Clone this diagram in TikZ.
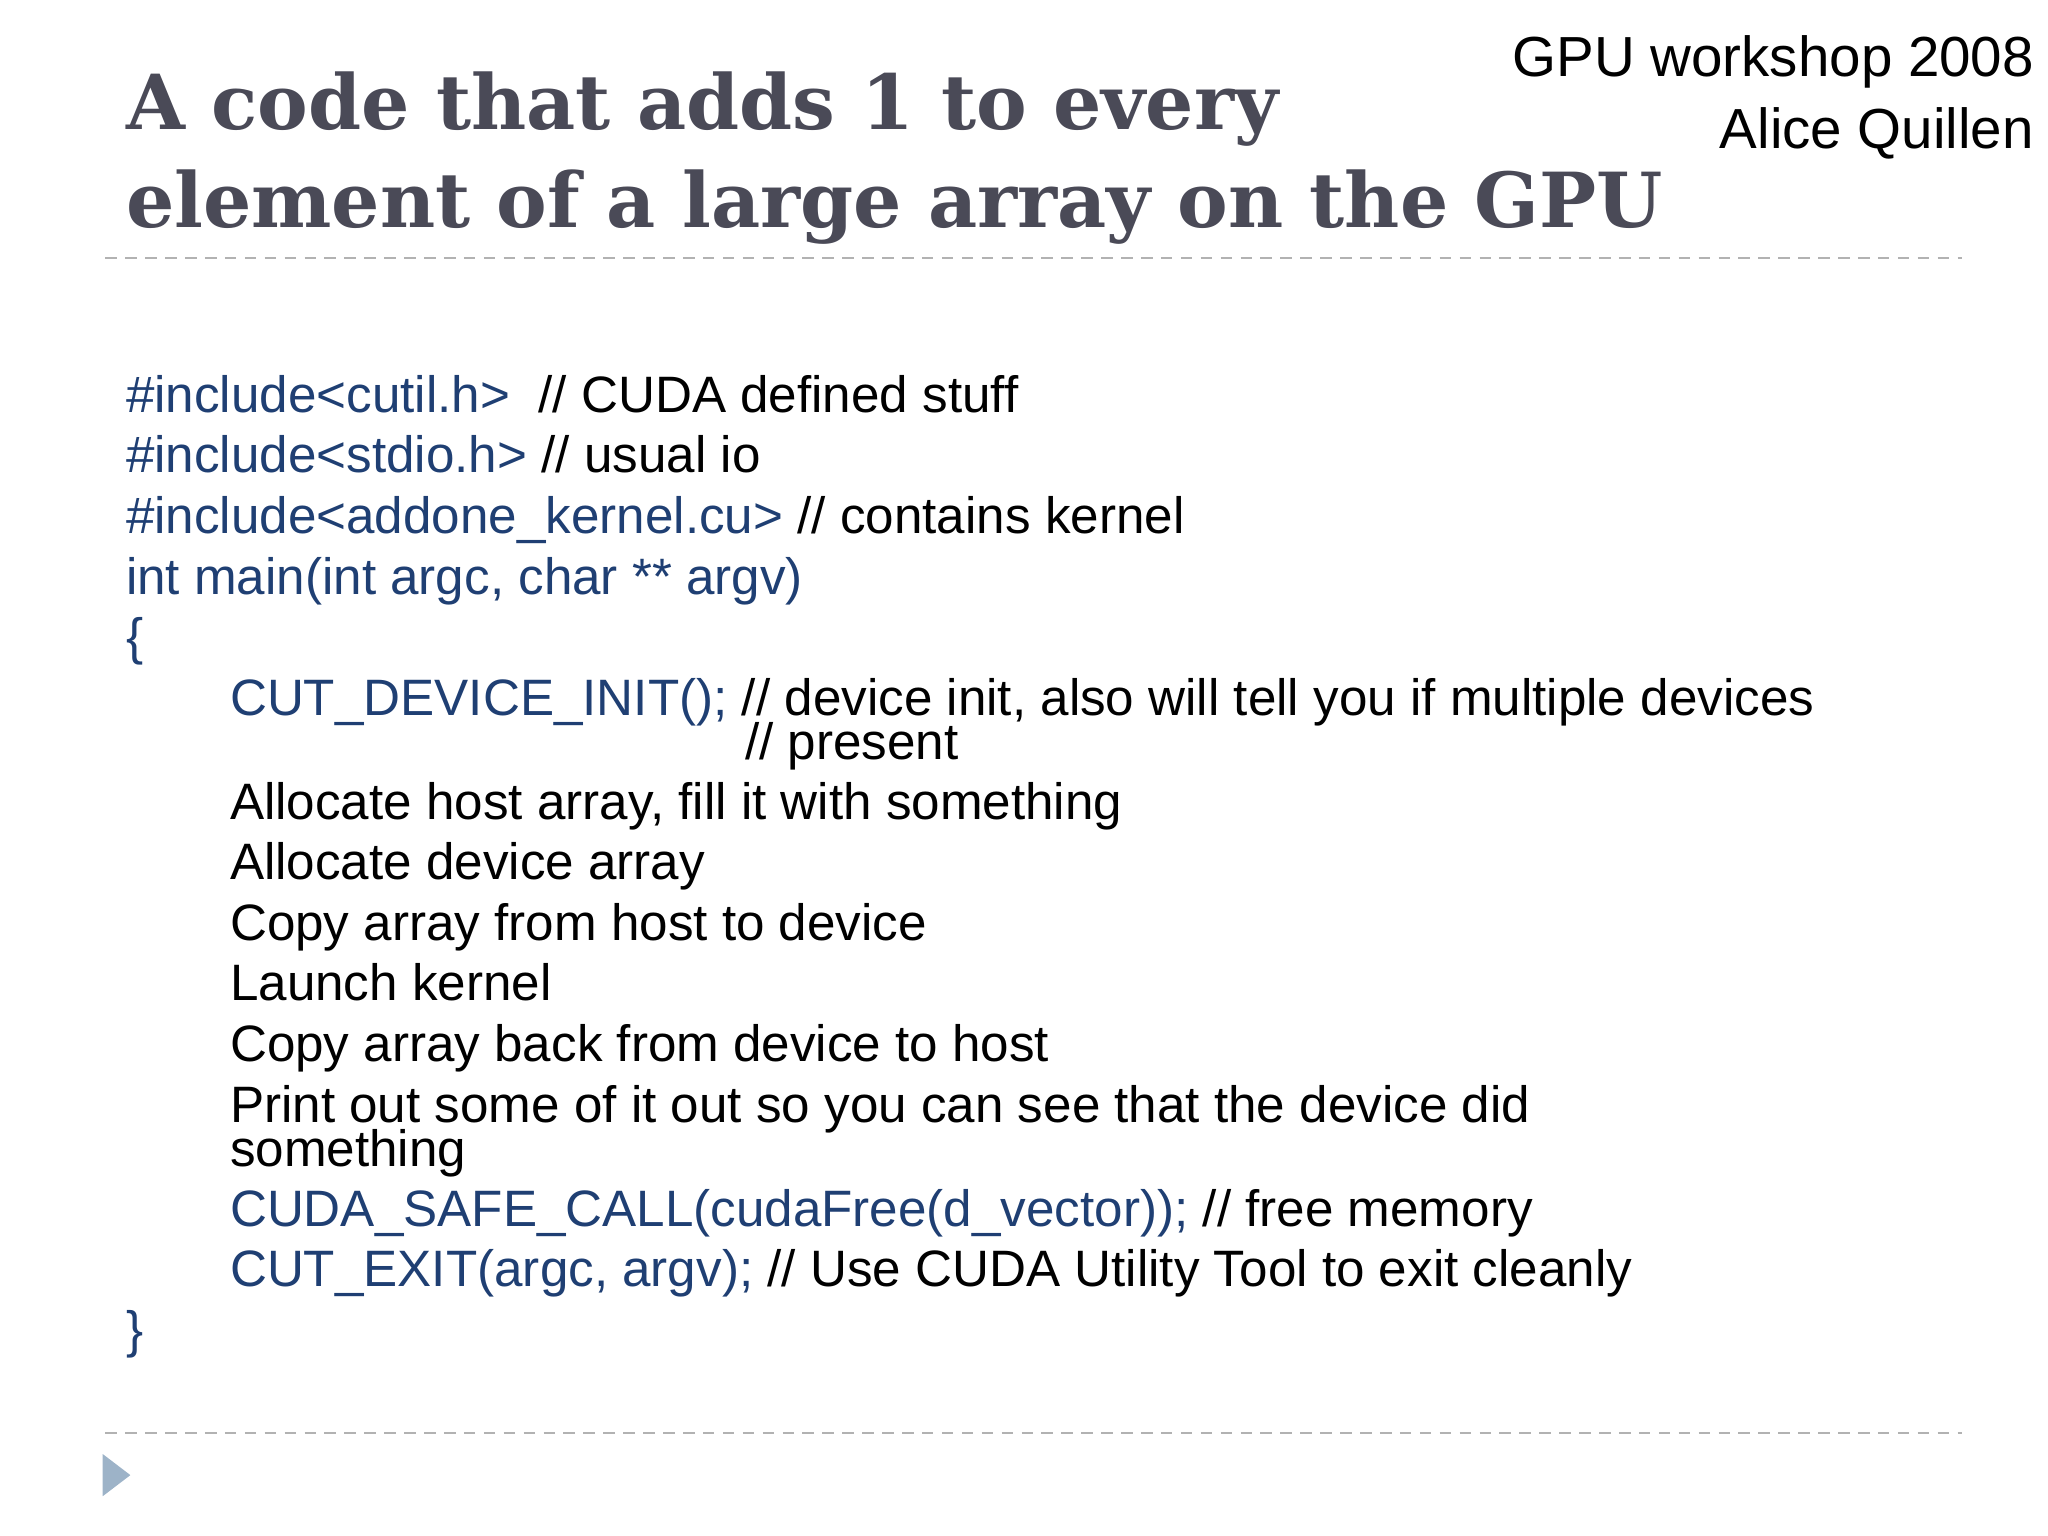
\documentclass[tikz,border=0pt]{standalone}
\usepackage{fontspec}
\setmainfont{Liberation Sans}
\newfontfamily\titlefont{DejaVu Serif}
\definecolor{codeblue}{HTML}{1F3F73}
\definecolor{titlegray}{HTML}{4A4A57}
\definecolor{tri}{HTML}{9DB3C8}
\begin{document}
\begin{tikzpicture}[x=0.01cm,y=-0.01cm,
  body/.style={anchor=base west,inner sep=0pt,font=\fontsize{11.05}{12}\selectfont},
  ttl/.style={anchor=base west,inner sep=0pt,text=titlegray,font=\titlefont\bfseries\fontsize{16.4}{18}\selectfont},
  hdr/.style={anchor=base east,inner sep=0pt,font=\fontsize{12.2}{13}\selectfont},
  rule/.style={gray!60,dash pattern=on 2.5pt off 1.8pt,line width=0.5pt}]
\useasboundingbox (0,0) rectangle (1555,1166);
\node[ttl] (t1) at (95,98) {A code that adds 1 to every};
\node[ttl] (t2) at (95,173) {element of a large array on the GPU};
\node[hdr] (h1) at (1545,58) {GPU workshop 2008};
\node[hdr] (h2) at (1545,113) {Alice Quillen};
\coordinate (r1a) at (80,196); \coordinate (r1b) at (1490,196);
\draw[rule] (r1a) -- (r1b);
\coordinate (r2a) at (80,1088); \coordinate (r2b) at (1490,1088);
\draw[rule] (r2a) -- (r2b);
\fill[tri] (78,1104) -- (99,1120) -- (78,1136) -- cycle;
\node[body] (l1) at (95,313) {{\color{codeblue}\#include<cutil.h>}\ \ // CUDA defined stuff};
\node[body] (l2) at (95,359) {{\color{codeblue}\#include<stdio.h>} // usual io};
\node[body] (l3) at (95,405) {{\color{codeblue}\#include<addone\_kernel.cu>} // contains kernel};
\node[body,text=codeblue] (l4) at (95,451) {int main(int argc, char ** argv)};
\node[body,text=codeblue] (l5) at (95,497) {\{};
\node[body] (l6) at (174,543) {{\color{codeblue}CUT\_DEVICE\_INIT();} // device init, also will tell you if multiple devices};
\node[body] (l6b) at (565,577) {// present};
\node[body] (l7) at (174,622) {Allocate host array, fill it with something};
\node[body] (l8) at (174,668) {Allocate device array};
\node[body] (l9) at (174,714) {Copy array from host to device};
\node[body] (l10) at (174,760) {Launch kernel};
\node[body] (l11) at (174,806) {Copy array back from device to host};
\node[body] (l12) at (174,852) {Print out some of it out so you can see that the device did};
\node[body] (l12b) at (174,886) {something};
\node[body] (l13) at (174,931) {{\color{codeblue}CUDA\_SAFE\_CALL(cudaFree(d\_vector));} // free memory};
\node[body] (l14) at (174,977) {{\color{codeblue}CUT\_EXIT(argc, argv);} // Use CUDA Utility Tool to exit cleanly};
\node[body,text=codeblue] (l15) at (95,1023) {\}};
\end{tikzpicture}
\end{document}
